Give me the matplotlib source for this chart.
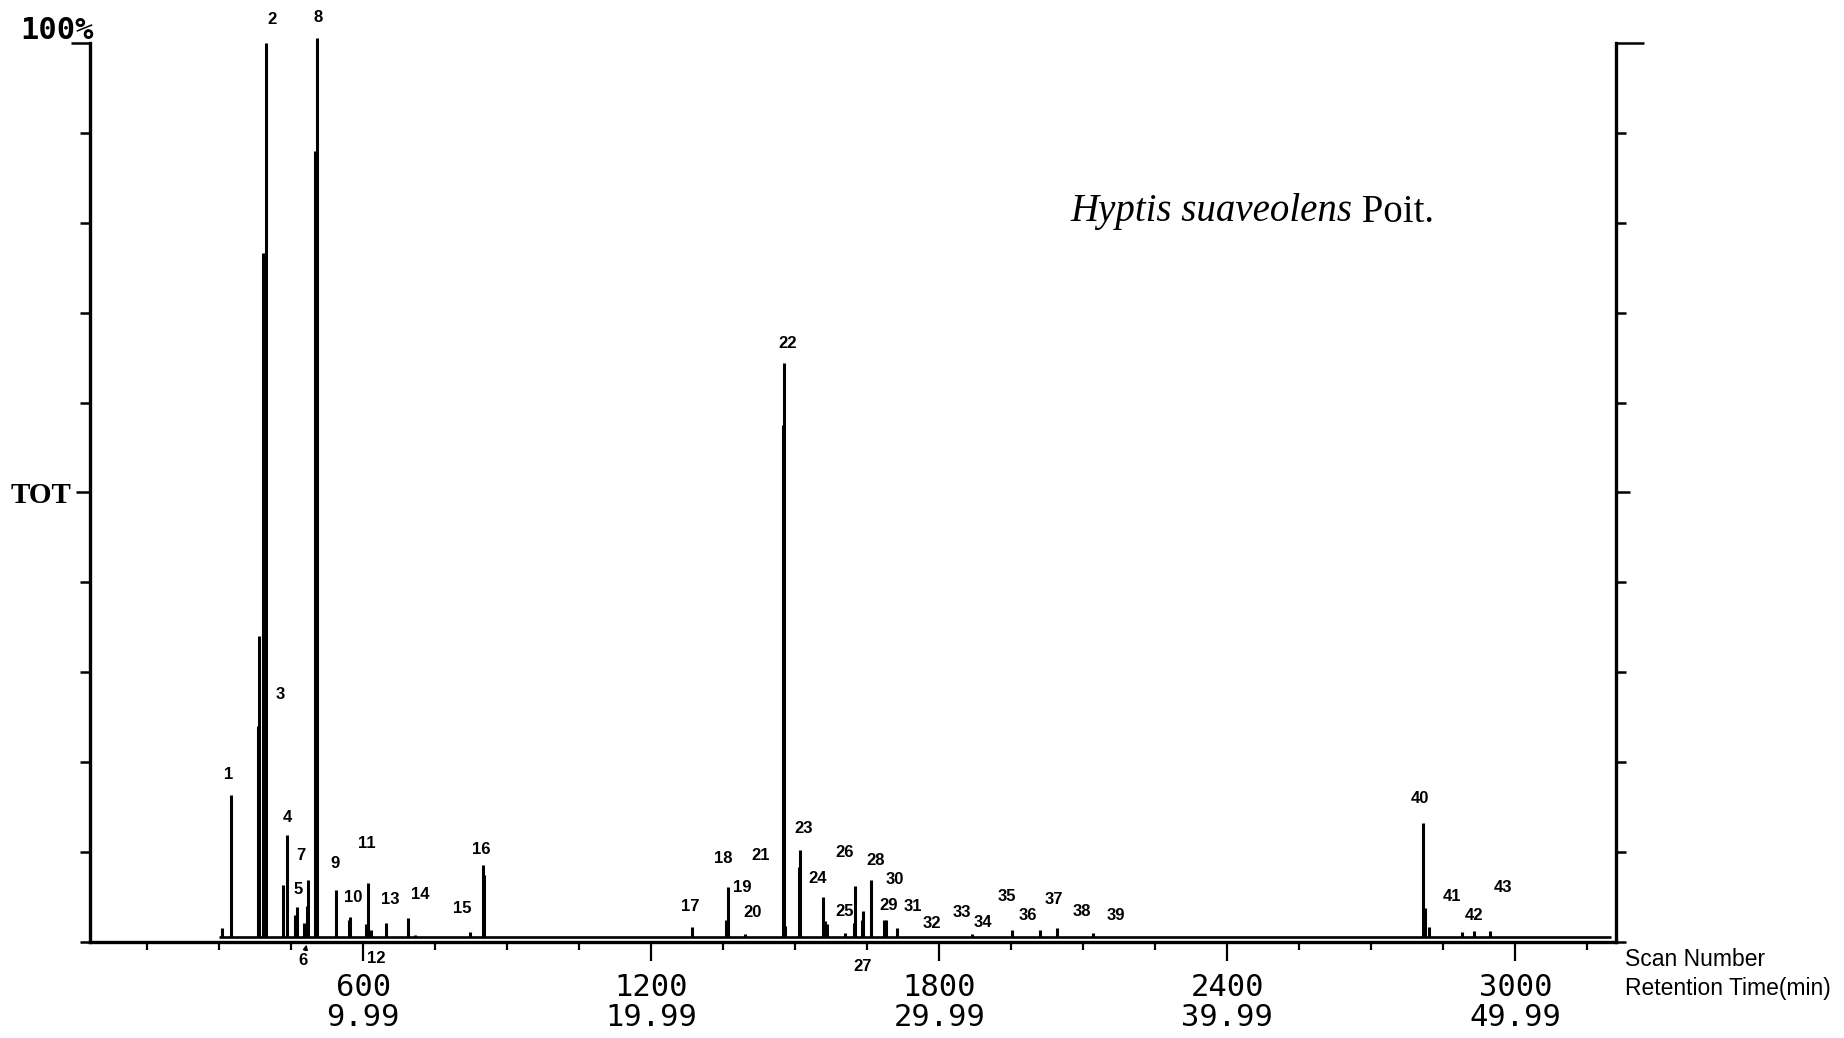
import matplotlib
matplotlib.use("Agg")
import matplotlib.pyplot as plt
from matplotlib.ticker import MultipleLocator, FixedLocator

# ── Total ion chromatogram: scan number vs. relative abundance (%) ──────────
peak_scans = [305, 324, 380, 384, 391, 398, 434, 442, 459, 462, 477, 484,
              486, 500, 504, 544, 570, 573, 606, 610, 616, 648, 693, 708,
              823, 849, 852, 1285, 1356, 1361, 1378, 1396, 1441, 1474, 1476,
              1479, 1507, 1510, 1558, 1563, 1567, 1604, 1622, 1625, 1640,
              1642, 1658, 1686, 1690, 1712, 1795, 1858, 1868, 1951, 2010,
              2045, 2121, 2181, 2808, 2812, 2820, 2888, 2915, 2948]
peak_pct = [1.5, 16.4, 24.0, 34.0, 76.6, 100.0, 6.3, 11.9, 3.0, 3.9, 2.1, 4.0,
            6.9, 88.0, 100.5, 5.8, 2.5, 2.8, 2.0, 6.6, 1.3, 2.1, 2.7, 0.8,
            1.1, 8.6, 7.5, 1.7, 2.4, 6.1, 0.6, 0.9, 0.6, 57.5, 64.4,
            1.8, 8.3, 10.2, 5.0, 2.3, 2.0, 1.0, 2.1, 6.2, 2.4,
            3.4, 6.9, 2.4, 2.4, 1.5, 0.5, 0.6, 0.9, 1.3, 1.3,
            1.5, 1.0, 0.5, 13.2, 3.8, 1.7, 1.1, 1.2, 1.2]

trace_start, trace_end = 300, 3200
baseline_pct = 0.5

# peak numbers and where each number is written (scan, %)
label_num = list(range(1, 44))
label_scan = [319, 410, 427, 442, 464, 475, 471, 506, 542, 579,
              608, 627, 656, 719, 806, 846, 1281, 1350, 1390, 1412,
              1427, 1484, 1517, 1546, 1604, 1604, 1640, 1667, 1694, 1708,
              1746, 1785, 1848, 1892, 1942, 1985, 2038, 2098, 2167, 2802,
              2869, 2915, 2975]
label_pct = [18.6, 102.6, 27.5, 13.9, 5.8, -2.1, 9.6, 102.8, 8.7, 4.9,
             11.0, -1.8, 4.7, 5.3, 3.7, 10.3, 4.0, 9.3, 6.1, 3.3,
             9.6, 66.6, 12.6, 7.1, 3.4, 9.9, -2.7, 9.1, 4.1, 7.0,
             3.9, 2.1, 3.3, 2.2, 5.1, 3.0, 4.7, 3.4, 3.0, 16.0,
             5.1, 3.0, 6.1]

scan_ticks = [600, 1200, 1800, 2400, 3000]
rt_labels = ["9.99", "19.99", "29.99", "39.99", "49.99"]

# ── Figure ─────────────────────────────────────────────────────────────────
fig = plt.figure(figsize=(18.44, 10.38), dpi=100)
fig.patch.set_facecolor("white")
ax = fig.add_axes([0.0488, 0.0925, 0.8276, 0.8661])

ax.set_xlim(31, 3210)
ax.set_ylim(0, 100)

ax.hlines(baseline_pct, trace_start, trace_end, color="black", linewidth=1.9)
ax.vlines(peak_scans, baseline_pct, peak_pct, color="black", linewidth=2.2,
          clip_on=False)

for n, xs, yp in zip(label_num, label_scan, label_pct):
    if n == 6:
        ax.annotate("6", xy=(482, -0.3), xytext=(xs, yp), ha="center",
                    va="center", fontsize=12, fontweight="bold",
                    family="Liberation Sans", annotation_clip=False,
                    arrowprops=dict(arrowstyle="-|>", color="black", lw=1,
                                    mutation_scale=7, shrinkA=0, shrinkB=0))
        continue
    ax.text(xs, yp, str(n), ha="center", va="center", fontsize=12,
            fontweight="bold", family="Liberation Sans", clip_on=False)

# ── Axes styling ───────────────────────────────────────────────────────────
ax.spines["top"].set_visible(False)
for side in ("left", "right", "bottom"):
    ax.spines[side].set_linewidth(2.4)

ax.set_xticks(scan_ticks, [f"{s}\n{r}" for s, r in zip(scan_ticks, rt_labels)],
              family="DejaVu Sans Mono", fontsize=22, linespacing=1.05)
ax.xaxis.set_minor_locator(MultipleLocator(150))
ax.tick_params(axis="x", which="major", direction="out", length=14, width=1.6,
               pad=8)
ax.tick_params(axis="x", which="minor", direction="out", length=6, width=1.6)

ax.yaxis.set_major_locator(FixedLocator([50, 100]))
ax.yaxis.set_minor_locator(MultipleLocator(10))
ax.set_yticklabels(["TOT", ""], family="Liberation Serif", fontsize=21,
                   fontweight="bold")
ax.tick_params(axis="y", which="both", direction="out", left=True, right=True,
               width=1.8, pad=3)
ax.tick_params(axis="y", which="major", length=10)
ax.tick_params(axis="y", which="minor", length=7)
top_tick = ax.yaxis.get_major_ticks()[1]
top_tick.tick1line.set_markersize(14)
top_tick.tick2line.set_markersize(20)

fig.text(57 / 1844, 1 - 39 / 1038, "100%", ha="center", va="baseline",
         family="DejaVu Sans Mono", fontsize=22, fontweight="bold")

fig.text(1625 / 1844, 1 - 960 / 1038, "Scan Number", ha="left", va="center",
         family="Liberation Sans", fontsize=16.5)
fig.text(1625 / 1844, 1 - 988 / 1038, "Retention Time(min)", ha="left",
         va="center", family="Liberation Sans", fontsize=16.5)

species = fig.text(1070 / 1844, 1 - 212 / 1038, "Hyptis suaveolens",
                   ha="left", va="center", family="Liberation Serif",
                   fontstyle="italic", fontsize=28)
ax.annotate(" Poit.", xy=(1, 0), xycoords=species, ha="left", va="bottom",
            family="Liberation Serif", fontsize=28)

fig.savefig("out.png", dpi=100, facecolor="white")
